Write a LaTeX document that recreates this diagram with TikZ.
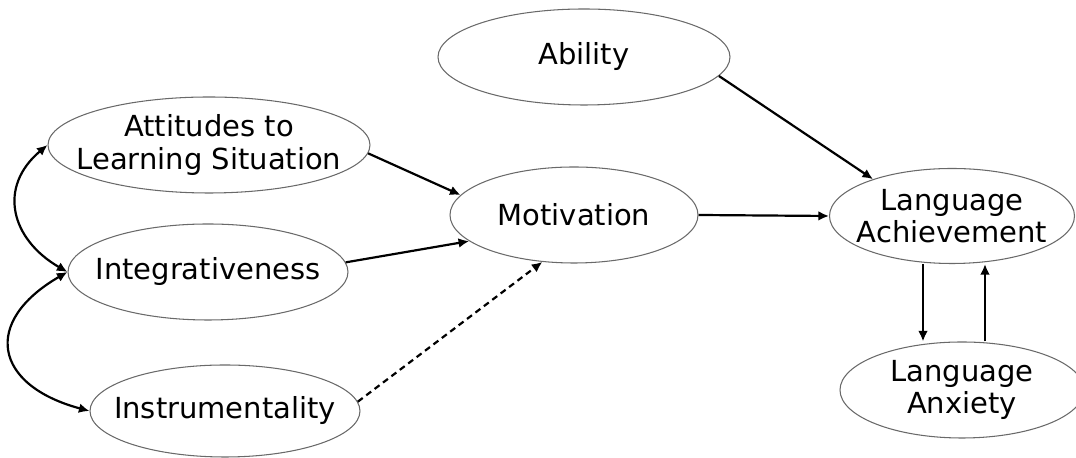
\documentclass[tikz,border=0pt]{standalone}
\usepackage{fontspec}
\setmainfont{DejaVu Sans}
\usetikzlibrary{shapes.geometric, arrows.meta}
\definecolor{mygray}{RGB}{105,105,105}

\begin{document}
\begin{tikzpicture}[
	oval/.style = {ellipse, draw = mygray, line width = 0.6pt, inner sep = 0pt, minimum height = 1.92cm},
	txt/.style = {align = center, font = \fontsize{16.5}{18.6}\selectfont},
	link/.style = {line width = 1.25pt, -{Latex[length = 6pt, width = 5.5pt]}},
	both/.style = {link, {Latex[length = 6pt, width = 5.5pt]}-{Latex[length = 6pt, width = 5.5pt]}}
]

\useasboundingbox (0,0) rectangle (21.52,9.16);

\draw (4.18,6.26) node [oval, minimum width = 6.44cm, label = {[txt]center:Attitudes to\\Learning Situation}] (att) {};
\draw (4.16,3.72) node [oval, minimum width = 5.6cm, label = {[txt]center:Integrativeness}] (int) {};
\draw (4.50,0.94) node [oval, minimum width = 5.4cm, minimum height = 1.84cm, label = {[txt]center:Instrumentality}] (inst) {};
\draw (11.68,8.02) node [oval, minimum width = 5.84cm, label = {[txt]center:Ability}] (abil) {};
\draw (11.48,4.86) node [oval, minimum width = 4.96cm, label = {[txt]center:Motivation}] (mot) {};
\draw (19.04,4.84) node [oval, minimum width = 4.9cm, minimum height = 1.9cm, label = {[txt]center:Language\\Achievement}] (lach) {};
\draw (19.24,1.36) node [oval, minimum width = 4.88cm, label = {[txt]center:Language\\Anxiety}] (lanx) {};

\coordinate (down) at ([xshift = -0.58cm]lach.south);
\coordinate (up) at ([xshift = 0.66cm]lach.south);

%----------LINKS-------------%
\draw[both]
(att.west) to [out = 220, in = 150, looseness = 1.3] (int.west);
\draw[both]
(int.west) to [out = 210, in = 165, looseness = 1.8] (inst.west);
\draw[link]
(att.357) to (mot.170);
\draw[link]
(int.4) to (mot.194);
\draw[link, dash pattern = on 3.5pt off 2.5pt]
(inst.4) to (mot.236);
\draw[link]
(mot.east) to (lach.west);
\draw[link]
(abil.352) to (lach.155);
\draw[link]
(down) to (down |- lanx.north);
\draw[link]
(up |- lanx.north) to (up);

\end{tikzpicture}
\end{document}
